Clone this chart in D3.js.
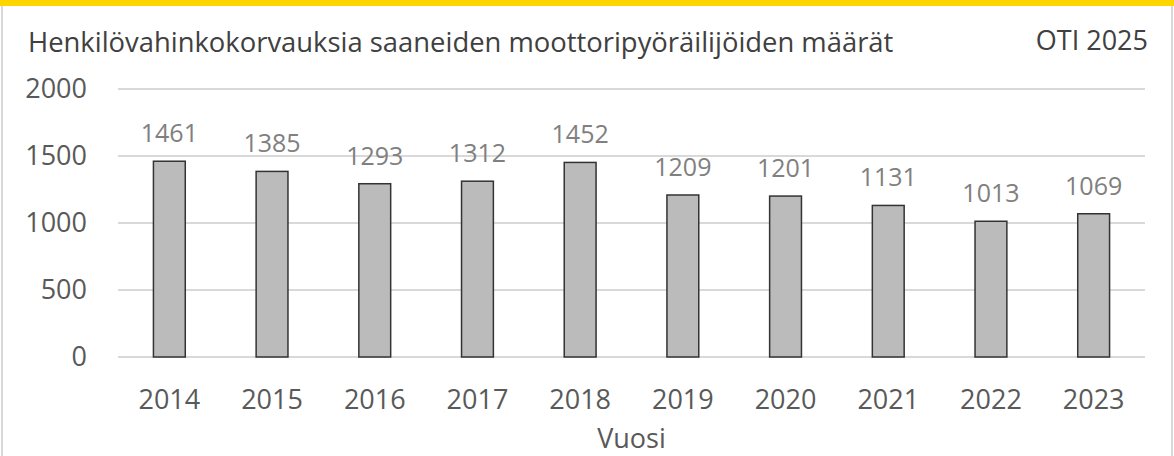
<!DOCTYPE html>
<html>
<head>
<meta charset="utf-8">
<script src="https://cdn.jsdelivr.net/npm/d3@7"></script>
<style>
  body { margin: 0; background: #fff; }
  text { font-family: "Open Sans", sans-serif; }
</style>
</head>
<body>
<div id="chart"></div>
<script>
// data
var years = ["2014", "2015", "2016", "2017", "2018", "2019", "2020", "2021", "2022", "2023"];
var counts = [1461, 1385, 1293, 1312, 1452, 1209, 1201, 1131, 1013, 1069];
var yTicks = [0, 500, 1000, 1500, 2000];
var title = "Henkilövahinkokorvauksia saaneiden moottoripyöräilijöiden määrät";
var source = "OTI 2025";
var xTitle = "Vuosi";

var width = 1174, height = 456;
var margin = {left: 118, right: 29, top: 89, bottom: 99};

var svg = d3.select("#chart").append("svg")
  .attr("width", width)
  .attr("height", height);

svg.append("rect").attr("width", width).attr("height", height).attr("fill", "#fff");
// frame
svg.append("rect")
  .attr("x", 2).attr("y", 0)
  .attr("width", width - 4).attr("height", height + 4)
  .attr("fill", "none").attr("stroke", "#d9d9d9").attr("stroke-width", 2);
svg.append("rect")
  .attr("x", 0).attr("y", 0).attr("width", width).attr("height", 6)
  .attr("fill", "#ffd500");

var x = d3.scaleBand()
  .domain(years)
  .range([margin.left, width - margin.right])
  .paddingInner(0.69)
  .paddingOuter(0.345);

var y = d3.scaleLinear()
  .domain([0, 2000])
  .range([height - margin.bottom, margin.top]);

// gridlines
svg.append("g").selectAll("line")
  .data(yTicks)
  .enter().append("line")
  .attr("x1", margin.left)
  .attr("x2", width - margin.right)
  .attr("y1", function(d) { return y(d); })
  .attr("y2", function(d) { return y(d); })
  .attr("stroke", "#d9d9d9")
  .attr("stroke-width", 2);

// y axis labels
var yAxis = d3.axisLeft(y).tickValues(yTicks).tickFormat(d3.format("d")).tickSize(0).tickPadding(31);
var gy = svg.append("g")
  .attr("transform", "translate(" + margin.left + ",0)")
  .call(yAxis);
gy.select(".domain").remove();
gy.selectAll("text")
  .attr("font-family", "Open Sans")
  .attr("font-size", 27)
  .attr("fill", "#595959");

// x axis labels
var xAxis = d3.axisBottom(x).tickSize(0).tickPadding(33);
var gx = svg.append("g")
  .attr("transform", "translate(0," + (height - margin.bottom) + ")")
  .call(xAxis);
gx.select(".domain").remove();
gx.selectAll("text")
  .attr("font-family", "Open Sans")
  .attr("font-size", 27)
  .attr("fill", "#595959");

// bars
svg.append("g").selectAll("rect")
  .data(counts)
  .enter().append("rect")
  .attr("x", function(d, i) { return x(years[i]); })
  .attr("y", function(d) { return y(d); })
  .attr("width", x.bandwidth())
  .attr("height", function(d) { return y(0) - y(d); })
  .attr("fill", "#bbbbbb")
  .attr("stroke", "#333333")
  .attr("stroke-width", 1.5);

// value labels
svg.append("g").selectAll("text")
  .data(counts)
  .enter().append("text")
  .attr("x", function(d, i) { return x(years[i]) + x.bandwidth() / 2; })
  .attr("y", function(d) { return y(d) - 19; })
  .attr("text-anchor", "middle")
  .attr("font-size", 25)
  .attr("fill", "#808080")
  .text(function(d) { return d; });

// titles
svg.append("text")
  .attr("x", 28).attr("y", 52)
  .attr("font-size", 27.4)
  .attr("fill", "#404040")
  .text(title);

svg.append("text")
  .attr("x", 1148).attr("y", 50)
  .attr("text-anchor", "end")
  .attr("font-size", 27)
  .attr("fill", "#404040")
  .text(source);

svg.append("text")
  .attr("x", (margin.left + width - margin.right) / 2)
  .attr("y", 448)
  .attr("text-anchor", "middle")
  .attr("font-size", 27)
  .attr("fill", "#595959")
  .text(xTitle);
</script>
</body>
</html>
